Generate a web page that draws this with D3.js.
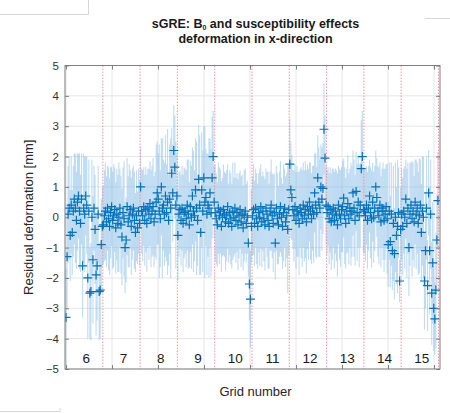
<!DOCTYPE html>
<html>
<head>
<meta charset="utf-8">
<script src="https://cdn.jsdelivr.net/npm/d3@7"></script>
<style>
    body { margin: 0; background: #fff; }
    svg { display: block; font-family: "Liberation Sans", Arial, sans-serif; }
</style>
</head>
<body>
<div id="chart"></div>
<script>
// grids shown along the x axis, 36 measurements each
const gridNumbers = [6, 7, 8, 9, 10, 11, 12, 13, 14, 15];
const pointsPerGrid = 36;

// mean residual deformation per point [mm], one row per grid
const meanByGrid = [
    [-3.3, -1.3, 0.1, 0.3, -0.6, 0.4, -0.5, 0.2, 0.6, 0.3, -0.1, 0.5, 0.7, 0.2, -0.2, 0.6, -1.6, 0.3, 0.1, 0.7, 0.4, -2.0, 0.2, -2.5, -2.45, 0.0, -1.4, 0.3, -0.4, -1.9, -1.6, 0.1, -2.45, -2.4, -0.9, -0.3],
    [-0.25, 0.05, 0.2, -0.15, 0.3, -0.05, -0.3, 0.15, 0.35, -0.1, 0.05, 0.25, -0.35, 0.1, -0.2, 0.0, 0.3, -0.25, -0.65, 0.15, -0.05, -1.0, -0.75, 0.35, -0.15, 0.05, 0.25, -0.3, 0.1, 0.3, -0.1, -0.5, 0.05, -0.35, 0.2, -0.2],
    [1.0, 0.2, 0.05, 0.35, -0.1, 0.25, -0.2, 0.3, 0.1, 0.45, -0.05, 0.2, 0.35, -0.15, 0.1, 0.5, 0.8, 0.6, 0.2, -0.05, 1.0, 0.3, 0.4, 0.1, 0.7, 0.15, 0.5, -0.1, 0.6, 0.3, 1.45, 0.8, 2.2, 1.65, 0.4, 0.7],
    [-0.6, 0.1, 0.25, -0.1, 0.3, -0.2, 0.15, 0.2, -0.05, 0.4, 0.1, -0.25, 0.35, 0.0, 0.7, 0.2, 0.05, 0.9, 0.3, -0.1, 1.25, 0.4, -0.5, 0.9, 0.2, 1.3, 0.5, 0.65, 0.1, 0.4, 0.3, 0.8, 0.15, 1.3, 2.0, 0.5],
    [0.15, -0.05, -0.25, 0.3, 0.05, 0.2, -0.3, 0.0, 0.25, 0.1, -0.15, 0.05, 0.35, -0.2, 0.15, -0.05, -0.3, 0.2, 0.0, 0.3, -0.1, 0.15, -0.25, 0.05, 0.25, -0.15, 0.1, -0.35, 0.05, 0.2, -0.2, 0.0, -0.85, -2.2, -2.7, -0.3],
    [0.05, 0.25, -0.2, 0.3, -0.05, -0.3, 0.15, 0.0, 0.35, -0.15, 0.2, -0.05, -0.25, 0.3, 0.1, -0.1, -0.3, 0.2, 0.4, 0.05, -0.2, 0.15, -0.85, 0.3, -0.05, -0.25, 0.1, 0.35, 0.0, -0.3, 0.15, 0.3, -0.15, 0.05, -0.4, 0.25],
    [1.75, 0.9, 0.65, 0.25, 0.05, 0.35, -0.1, 0.2, 0.1, -0.2, 0.3, 0.15, -0.05, 0.4, 0.05, 0.25, -0.15, 0.35, 0.1, 0.5, 0.2, -0.05, 0.3, 0.1, 0.8, 0.4, 0.15, 1.3, 0.5, 0.3, 1.0, 0.6, 0.95, 2.9, 1.95, 0.4],
    [0.15, 0.35, -0.05, 0.25, -0.15, 0.1, 0.3, -0.1, 0.2, 0.05, -0.25, 0.4, 0.1, -0.05, 0.25, 0.35, 0.63, 0.05, -0.2, 0.2, 0.45, -0.05, 0.3, 0.1, 0.2, 0.8, 0.3, -0.1, 0.85, 0.15, 0.5, 0.05, 0.4, 1.6, 2.0, 0.25],
    [0.2, 0.05, 0.4, -0.1, 0.3, 0.7, 0.15, -0.05, 0.5, 0.0, 0.3, 1.0, 0.65, 0.2, 0.05, 0.4, -0.15, 0.3, 0.2, -0.1, 0.1, 0.35, -0.05, -0.9, 0.2, -0.8, 0.1, -1.1, -0.2, -1.2, 0.0, -0.6, -0.3, 0.15, -2.1, -0.4],
    [0.1, -0.3, 0.2, 0.0, 0.6, -0.2, 0.3, -1.0, 0.1, 0.4, -0.05, 0.2, -0.15, 0.5, 0.1, 0.3, -0.2, 0.05, 0.4, -0.5, 0.2, 0.0, -2.1, -1.1, 0.3, -2.25, 0.8, -1.1, 0.1, -2.5, -1.5, -3.0, -3.35, -2.4, -0.75, 0.55]
];

// half length of each error bar [mm]
const errByGrid = [
    [1.6, 1.7, 1.6, 1.7, 1.5, 1.6, 1.4, 1.5, 1.5, 1.8, 1.6, 1.6, 1.4, 1.9, 1.6, 1.5, 1.7, 1.8, 1.9, 1.3, 1.6, 2.0, 1.7, 1.5, 1.6, 1.9, 2.1, 1.4, 1.8, 2.0, 1.8, 1.6, 1.6, 1.6, 1.5, 1.3],
    [1.3, 1.5, 1.6, 1.5, 1.4, 1.7, 1.6, 1.5, 1.3, 1.6, 1.7, 1.4, 1.5, 1.5, 1.6, 1.8, 1.3, 1.6, 1.6, 1.5, 1.9, 1.5, 1.4, 1.6, 1.5, 1.7, 1.3, 1.6, 1.5, 1.4, 1.6, 1.3, 1.5, 1.2, 1.4, 1.4],
    [1.3, 1.4, 1.5, 1.3, 1.5, 1.4, 1.6, 1.3, 1.5, 1.4, 1.6, 1.5, 1.6, 1.5, 1.4, 1.9, 1.7, 1.5, 2.2, 1.6, 1.6, 2.3, 1.5, 1.7, 2.0, 1.6, 2.4, 1.5, 1.8, 2.3, 1.5, 1.6, 1.5, 1.7, 2.1, 1.4],
    [1.5, 1.4, 1.3, 1.5, 1.4, 1.6, 1.5, 1.4, 1.6, 1.5, 1.8, 1.4, 1.5, 1.7, 1.6, 2.0, 1.5, 1.7, 2.2, 1.5, 1.8, 2.3, 1.4, 1.9, 2.0, 1.7, 2.5, 1.6, 2.0, 1.7, 2.3, 1.8, 2.1, 2.0, 1.5, 1.2],
    [1.6, 1.5, 1.4, 1.5, 1.6, 1.4, 1.5, 1.3, 1.5, 1.4, 1.6, 1.5, 1.4, 1.3, 1.4, 1.5, 1.4, 1.6, 1.3, 1.5, 1.4, 1.3, 1.5, 1.4, 1.3, 1.5, 1.3, 1.4, 1.5, 1.4, 1.3, 1.2, 1.1, 1.2, 1.6, 1.2],
    [1.3, 1.5, 1.4, 1.3, 1.5, 1.4, 1.3, 1.6, 1.4, 1.5, 1.3, 1.4, 1.5, 1.3, 1.4, 1.6, 1.4, 1.3, 1.5, 1.4, 1.6, 1.3, 1.2, 1.4, 1.5, 1.3, 1.4, 1.5, 1.3, 1.4, 1.6, 1.3, 1.5, 1.4, 2.1, 1.5],
    [1.5, 1.6, 1.4, 1.3, 1.5, 1.4, 1.6, 1.5, 1.4, 1.7, 1.3, 1.5, 1.6, 1.4, 1.5, 1.6, 1.7, 1.4, 1.5, 1.3, 1.6, 1.5, 1.4, 1.6, 1.3, 1.7, 1.5, 1.4, 1.8, 1.6, 1.4, 1.7, 1.5, 1.5, 1.4, 1.3],
    [1.4, 1.3, 1.5, 1.4, 1.6, 1.5, 1.3, 1.6, 1.4, 1.5, 1.7, 1.3, 1.5, 1.6, 1.4, 1.5, 1.3, 1.6, 1.5, 1.4, 1.6, 1.5, 1.3, 1.7, 1.5, 1.4, 1.6, 1.5, 1.3, 1.6, 1.5, 1.7, 1.4, 1.6, 1.5, 1.4],
    [1.4, 1.5, 1.3, 1.6, 1.4, 1.2, 1.5, 1.6, 1.3, 1.5, 1.4, 1.2, 1.3, 1.5, 1.6, 1.4, 1.5, 1.3, 1.6, 1.7, 1.5, 1.4, 1.8, 1.4, 1.6, 1.5, 1.7, 1.3, 1.9, 1.5, 1.8, 1.6, 2.2, 1.5, 0.7, 1.4],
    [1.5, 1.6, 1.4, 1.7, 1.3, 1.8, 1.5, 1.6, 1.7, 1.4, 1.9, 1.6, 1.5, 1.4, 1.8, 1.5, 1.7, 1.9, 1.5, 1.6, 1.8, 2.0, 1.6, 1.9, 1.7, 1.5, 1.4, 2.1, 1.8, 1.7, 2.0, 1.4, 1.2, 1.9, 1.5, 1.6]
];

const yTickValues = [-5, -4, -3, -2, -1, 0, 1, 2, 3, 4, 5];
const xTickValues = [1, 45.4, 89.8, 134.2, 178.6, 223, 267.4, 311.8, 356.2];

class ResidualChart {
    constructor(parentElement) {
        this.parentElement = parentElement;
        this.initVis();
    }

    initVis() {
        let vis = this;

        vis.margin = { top: 65.5, right: 10, bottom: 44, left: 65 };
        vis.width = 450 - vis.margin.left - vis.margin.right;
        vis.height = 413 - vis.margin.top - vis.margin.bottom;

        vis.root = d3.select("#" + vis.parentElement)
            .append("svg")
            .attr("width", 450)
            .attr("height", 413);

        // bits of the surrounding screenshot
        vis.root.append("path")
            .attr("d", "M0,14.5H88.5V0M425,18.5H450M0,411.5H60V408")
            .attr("fill", "none")
            .attr("stroke", "#d6d6d6");

        vis.svg = vis.root.append("g")
            .attr("transform", `translate(${vis.margin.left}, ${vis.margin.top})`);

        vis.svg.append("clipPath")
            .attr("id", "plot-clip")
            .append("rect")
            .attr("width", vis.width)
            .attr("height", vis.height);

        vis.xScale = d3.scaleLinear()
            .domain([0, 362])
            .range([0, vis.width]);

        vis.yScale = d3.scaleLinear()
            .domain([-5, 5])
            .range([vis.height, 0]);

        vis.wrangleData();
    }

    wrangleData() {
        let vis = this;

        vis.displayData = [];
        gridNumbers.forEach((g, gi) => {
            meanByGrid[gi].forEach((m, i) => {
                vis.displayData.push({
                    grid: g,
                    idx: gi * pointsPerGrid + i + 1,
                    mean: m,
                    err: errByGrid[gi][i]
                });
            });
        });

        vis.gridBounds = gridNumbers.map((g, gi) => ({
            grid: g,
            start: gi * pointsPerGrid + 0.5,
            end: (gi + 1) * pointsPerGrid + 0.5
        }));

        vis.updateVis();
    }

    updateVis() {
        let vis = this;

        // light grey grid
        vis.svg.append("g")
            .attr("class", "grid")
            .selectAll("line.h")
            .data(yTickValues)
            .enter()
            .append("line")
            .attr("x1", 0)
            .attr("x2", vis.width)
            .attr("y1", d => vis.yScale(d))
            .attr("y2", d => vis.yScale(d))
            .attr("stroke", "#e6e6e6");

        vis.svg.append("g")
            .attr("class", "grid")
            .selectAll("line.v")
            .data(xTickValues)
            .enter()
            .append("line")
            .attr("x1", d => vis.xScale(d))
            .attr("x2", d => vis.xScale(d))
            .attr("y1", 0)
            .attr("y2", vis.height)
            .attr("stroke", "#e6e6e6");

        const plot = vis.svg.append("g")
            .attr("clip-path", "url(#plot-clip)");

        // error bars
        plot.append("g")
            .selectAll("line")
            .data(vis.displayData)
            .enter()
            .append("line")
            .attr("x1", d => vis.xScale(d.idx))
            .attr("x2", d => vis.xScale(d.idx))
            .attr("y1", d => vis.yScale(d.mean - d.err))
            .attr("y2", d => vis.yScale(d.mean + d.err))
            .attr("stroke", "#7fb9e6")
            .attr("stroke-width", 1.1)
            .attr("stroke-opacity", 0.5);

        // grid separators
        plot.append("g")
            .selectAll("line")
            .data(vis.gridBounds)
            .enter()
            .append("line")
            .attr("x1", d => vis.xScale(d.end))
            .attr("x2", d => vis.xScale(d.end))
            .attr("y1", 0)
            .attr("y2", vis.height)
            .attr("stroke", "#f08c8c")
            .attr("stroke-width", 0.9)
            .attr("stroke-dasharray", "1.5,1.5");

        // mean markers
        plot.append("g")
            .selectAll("path")
            .data(vis.displayData)
            .enter()
            .append("path")
            .attr("transform", d => `translate(${vis.xScale(d.idx)}, ${vis.yScale(d.mean)})`)
            .attr("d", "M-4.5,0H4.5M0,-4.5V4.5")
            .attr("fill", "none")
            .attr("stroke", "#0072bd")
            .attr("stroke-width", 1.2);

        // grid numbers inside the plot
        vis.svg.append("g")
            .selectAll("text")
            .data(vis.gridBounds)
            .enter()
            .append("text")
            .attr("x", d => vis.xScale((d.start + d.end) / 2) + 2)
            .attr("y", vis.yScale(-4.8))
            .attr("text-anchor", "middle")
            .style("font-size", "13.5px")
            .style("fill", "#1a1a1a")
            .text(d => d.grid);

        // axes, MATLAB style box with inward ticks
        const axisColor = "#7f7f7f";
        vis.svg.append("rect")
            .attr("width", vis.width)
            .attr("height", vis.height)
            .attr("fill", "none")
            .attr("stroke", axisColor);

        const yLeft = vis.svg.append("g")
            .call(d3.axisLeft(vis.yScale).tickValues(yTickValues).tickSize(0).tickPadding(6));
        const yRight = vis.svg.append("g")
            .attr("transform", `translate(${vis.width}, 0)`)
            .call(d3.axisLeft(vis.yScale).tickValues(yTickValues).tickSize(4).tickFormat(""));
        const yInner = vis.svg.append("g")
            .call(d3.axisRight(vis.yScale).tickValues(yTickValues).tickSize(4).tickFormat(""));
        const xBottom = vis.svg.append("g")
            .attr("transform", `translate(0, ${vis.height})`)
            .call(d3.axisTop(vis.xScale).tickValues(xTickValues).tickSize(4).tickFormat(""));
        const xTop = vis.svg.append("g")
            .call(d3.axisBottom(vis.xScale).tickValues(xTickValues).tickSize(4).tickFormat(""));

        [yLeft, yRight, yInner, xBottom, xTop].forEach(a => {
            a.select(".domain").remove();
            a.selectAll("line").attr("stroke", axisColor);
        });
        yLeft.selectAll("text")
            .style("font-family", "\"Liberation Sans\", Arial, sans-serif")
            .style("font-size", "11.5px")
            .style("fill", "#333");

        // axis labels
        vis.svg.append("text")
            .attr("x", vis.width / 2 + 3)
            .attr("y", vis.height + 27)
            .attr("text-anchor", "middle")
            .style("font-size", "13px")
            .style("fill", "#262626")
            .text("Grid number");

        vis.svg.append("text")
            .attr("transform", `translate(-32, ${vis.height / 2}) rotate(-90)`)
            .attr("text-anchor", "middle")
            .style("font-size", "13px")
            .style("fill", "#262626")
            .text("Residual deformation [mm]");

        // title, two lines
        const titleX = vis.width / 2 + 3;
        const line1 = vis.svg.append("text")
            .attr("x", titleX)
            .attr("y", -37.5)
            .attr("text-anchor", "middle")
            .style("font-size", "12.5px")
            .style("font-weight", "bold")
            .style("fill", "#1a1a1a");
        line1.append("tspan").text("sGRE:  B");
        line1.append("tspan")
            .attr("dy", 1.8)
            .style("font-size", "7px")
            .text("0");
        line1.append("tspan")
            .attr("dy", -1.8)
            .text(" and susceptibility effects");

        vis.svg.append("text")
            .attr("x", titleX)
            .attr("y", -22.5)
            .attr("text-anchor", "middle")
            .style("font-size", "12.5px")
            .style("font-weight", "bold")
            .style("fill", "#1a1a1a")
            .text("deformation in x-direction");
    }
}

new ResidualChart("chart");
</script>
</body>
</html>
